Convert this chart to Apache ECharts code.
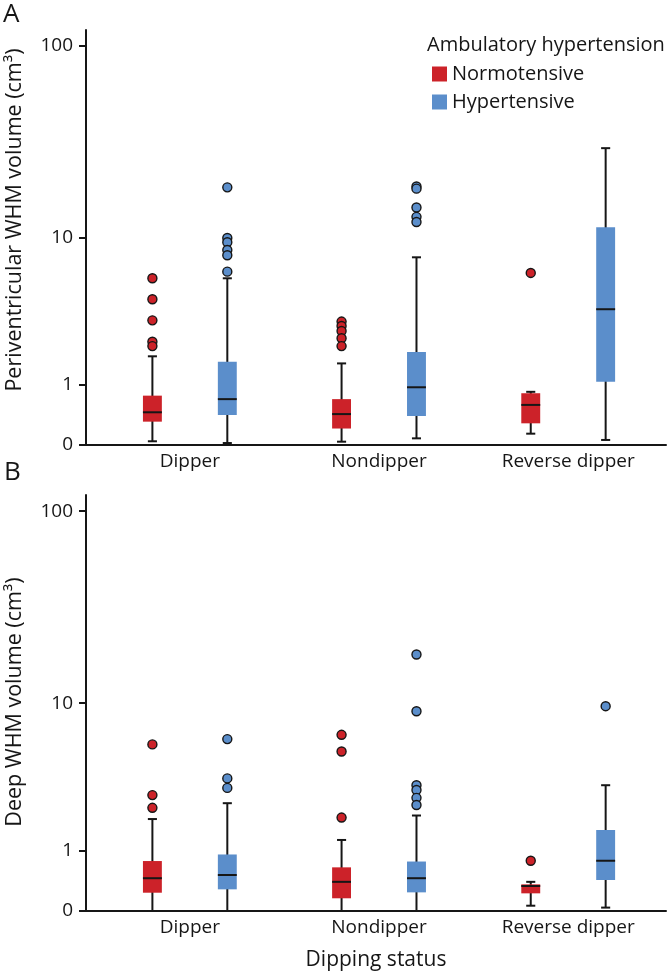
<!DOCTYPE html>
<html>
<head>
<meta charset="utf-8">
<script src="https://cdn.jsdelivr.net/npm/echarts@6/dist/echarts.min.js"></script>
<style>
html,body{margin:0;padding:0;background:#fff;}
#chart{width:668px;height:975px;}
</style>
</head>
<body>
<div id="chart"></div>
<script>
// ---------- data (cm^3) ----------
const categories = ['Dipper', 'Nondipper', 'Reverse dipper'];
const groups = ['Normotensive', 'Hypertensive'];
const yTickLabels = [0, 1, 10, 100];

// box stats per category: [lower whisker, Q1, median, Q3, upper whisker]
const periNormo = [[0.044, 0.31, 0.46, 0.77, 1.79], [0.039, 0.21, 0.43, 0.70, 1.57], [0.14, 0.285, 0.59, 0.82, 0.85]];
const periHyper = [[0.023, 0.415, 0.70, 1.62, 5.88], [0.08, 0.40, 0.95, 1.93, 7.77], [0.06, 1.08, 3.81, 11.4, 30.0]];
const periNormoOut = [[5.88, 4.40, 3.23, 2.30, 2.14], [3.17, 2.96, 2.74, 2.44, 2.14], [6.32]];
const periHyperOut = [[18.7, 9.97, 9.44, 8.55, 7.98, 6.43], [18.9, 18.4, 14.6, 13.0, 12.2], []];

const deepNormo = [[0, 0.235, 0.46, 0.78, 1.89], [0, 0.158, 0.40, 0.655, 1.27], [0.063, 0.226, 0.334, 0.36, 0.40]];
const deepHyper = [[0, 0.284, 0.515, 0.92, 2.47], [0, 0.24, 0.46, 0.77, 2.01], [0.04, 0.43, 0.786, 1.55, 3.27]];
const deepNormoOut = [[5.84, 2.81, 2.29], [6.64, 5.30, 1.94], [0.786]];
const deepHyperOut = [[6.27, 3.62, 3.14], [18.3, 9.03, 3.27, 3.04, 2.69, 2.40], [9.63]];

// ---------- helpers ----------
const tf = v => Math.log10(v + 1);          // log10(x+1) scale used by the figure
const RED = '#cc2229', BLUE = '#5b8ecb', INK = '#161616';
const FONT = 'Open Sans';
const X0 = 0.549;                            // distance of first category centre from the y axis (axis units)
const X_MIN = 0, X_MAX = 3.066;
const GROUP_OFF = [-0.198, 0.198];
const BOX_W = 0.1, CAP_W = 0.048;

function boxData(stats, off) {
  return stats.map((s, i) => [i + X0 + off].concat(s.map(tf)));
}
function outData(lists, off) {
  const out = [];
  lists.forEach((l, i) => l.forEach(v => out.push([i + X0 + off, tf(v)])));
  return out;
}
function boxRender(color) {
  return function (params, api) {
    const c = api.value(0);
    const pLo = api.coord([c, api.value(1)]);
    const pQ1 = api.coord([c, api.value(2)]);
    const pMed = api.coord([c, api.value(3)]);
    const pQ3 = api.coord([c, api.value(4)]);
    const pHi = api.coord([c, api.value(5)]);
    const w = api.size([BOX_W, 0])[0];
    const cw = api.size([CAP_W, 0])[0];
    const x = pLo[0];
    const ls = { stroke: INK, lineWidth: 2 };
    return {
      type: 'group',
      children: [
        { type: 'line', shape: { x1: x, y1: pLo[1], x2: x, y2: pHi[1] }, style: ls },
        { type: 'line', shape: { x1: x - cw / 2, y1: pLo[1], x2: x + cw / 2, y2: pLo[1] }, style: ls },
        { type: 'line', shape: { x1: x - cw / 2, y1: pHi[1], x2: x + cw / 2, y2: pHi[1] }, style: ls },
        { type: 'rect', shape: { x: x - w / 2, y: pQ3[1], width: w, height: pQ1[1] - pQ3[1] }, style: { fill: color } },
        { type: 'line', shape: { x1: x - w / 2, y1: pMed[1], x2: x + w / 2, y2: pMed[1] }, style: ls }
      ]
    };
  };
}

const panels = [
  { normo: periNormo, hyper: periHyper, normoOut: periNormoOut, hyperOut: periHyperOut },
  { normo: deepNormo, hyper: deepHyper, normoOut: deepNormoOut, hyperOut: deepHyperOut }
];

const grids = [
  { left: 86, width: 580, top: 30, height: 415 },
  { left: 86, width: 580, top: 495, height: 416 }
];

const xAxes = grids.map((g, i) => ({
  type: 'value', gridIndex: i, min: X_MIN, max: X_MAX,
  splitLine: { show: false },
  axisTick: { show: false },
  axisLine: { show: true, lineStyle: { color: INK, width: 2 } },
  axisLabel: {
    customValues: categories.map((c, k) => k + X0),
    formatter: v => categories[Math.round(v - X0)],
    fontFamily: FONT, fontSize: 19, color: INK, margin: 7
  }
}));

const yTickPos = yTickLabels.map(tf);
// label axes (one per panel)
const yLabelAxes = grids.map((g, i) => ({
  type: 'value', gridIndex: i, min: 0, max: 2.085, position: 'left',
  splitLine: { show: false },
  axisLine: { show: false },
  axisTick: { show: false },
  axisLabel: {
    customValues: yTickPos,
    formatter: v => {
      let best = 0;
      yTickPos.forEach((p, k) => { if (Math.abs(p - v) < Math.abs(yTickPos[best] - v)) best = k; });
      return String(yTickLabels[best]);
    },
    fontFamily: FONT, fontSize: 19, color: INK, margin: 13
  }
}));
// line + tick axes (one per panel)
const yLineAxes = grids.map((g, i) => ({
  type: 'value', gridIndex: i, min: 0, max: 2.085, position: 'left', offset: 0,
  splitLine: { show: false },
  axisLine: { show: true, onZero: false, lineStyle: { color: INK, width: 2 } },
  axisTick: { show: true, customValues: yTickPos, length: 7, lineStyle: { color: INK, width: 2 } },
  axisLabel: { show: false }
}));

const series = [];
panels.forEach((p, i) => {
  [[p.normo, p.normoOut, RED, 0], [p.hyper, p.hyperOut, BLUE, 1]].forEach(([box, outs, col, gi]) => {
    series.push({
      type: 'custom', name: groups[gi], xAxisIndex: i, yAxisIndex: i,
      itemStyle: { color: col },
      encode: { x: 0, y: [1, 2, 3, 4, 5] },
      data: boxData(box, GROUP_OFF[gi]),
      renderItem: boxRender(col),
      z: 2
    });
    const sc = {
      type: 'scatter', name: groups[gi] + ' outliers', xAxisIndex: i, yAxisIndex: i,
      symbol: 'circle', symbolSize: 9,
      itemStyle: { color: col, borderColor: INK, borderWidth: 1.4, opacity: 1 },
      data: outData(outs, GROUP_OFF[gi]),
      z: 3
    };
    if (gi === 0) {
      // vertical axis line at x = 0 (left edge of the plot), drawn through the x scale
      sc.markLine = {
        silent: true, symbol: 'none', animation: false,
        label: { show: false },
        lineStyle: { color: INK, width: 2, type: 'solid', opacity: 1 },
        emphasis: { disabled: true },
        data: [{ xAxis: X_MIN }]
      };
    }
    series.push(sc);
  });
});

const option = {
  animation: false,
  grid: grids,
  xAxis: xAxes,
  yAxis: yLabelAxes.concat(yLineAxes),
  series: series,
  legend: {
    orient: 'vertical', left: 427, top: 59,
    itemWidth: 15, itemHeight: 15, itemGap: 8,
    textStyle: { fontFamily: FONT, fontSize: 20, color: INK },
    data: [
      { name: groups[0], icon: 'rect', itemStyle: { color: RED } },
      { name: groups[1], icon: 'rect', itemStyle: { color: BLUE } }
    ]
  },
  graphic: [
    { type: 'text', left: 3, top: 2, style: { text: 'A', font: '400 26px "Open Sans"', fill: INK } },
    { type: 'text', left: 4, top: 460, style: { text: 'B', font: '400 26px "Open Sans"', fill: INK } },
    { type: 'text', x: 427, y: 45, style: { text: 'Ambulatory hypertension', font: '400 20px "Open Sans"', fill: INK, textVerticalAlign: 'middle' } },
    { type: 'text', x: 15, y: 220, rotation: Math.PI / 2,
      style: { text: 'Periventricular WHM volume (cm³)', font: '400 21.5px "Open Sans"', fill: INK, textAlign: 'center', textVerticalAlign: 'middle' } },
    { type: 'text', x: 15, y: 702, rotation: Math.PI / 2,
      style: { text: 'Deep WHM volume (cm³)', font: '400 21.5px "Open Sans"', fill: INK, textAlign: 'center', textVerticalAlign: 'middle' } },
    { type: 'text', x: 376, y: 960,
      style: { text: 'Dipping status', font: '400 21px "Open Sans"', fill: INK, textAlign: 'center', textVerticalAlign: 'middle' } }
  ]
};

const chart = echarts.init(document.getElementById('chart'), null, { renderer: 'canvas' });
chart.setOption(option);
</script>
</body>
</html>
